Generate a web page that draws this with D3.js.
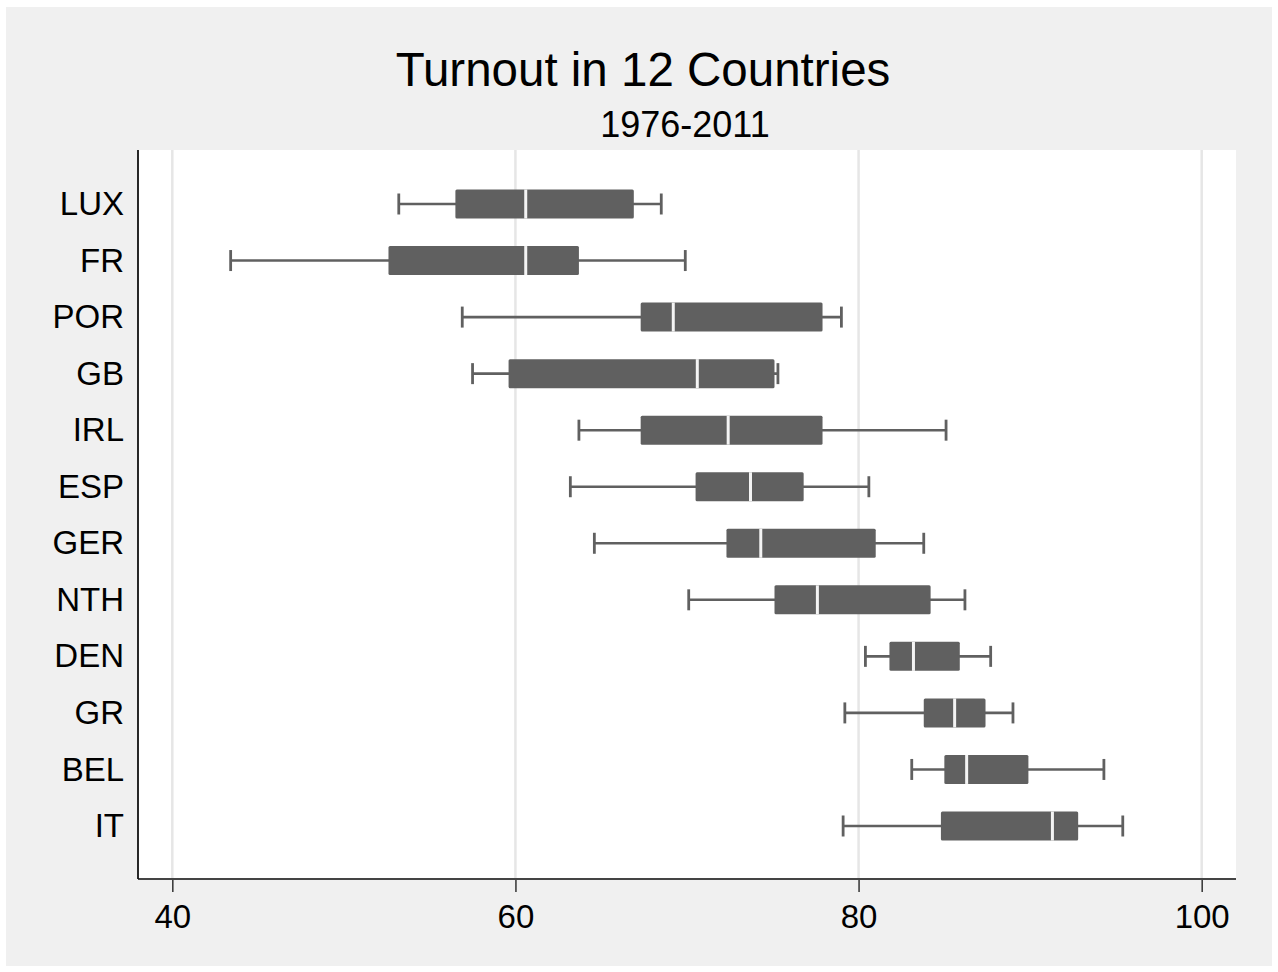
<!DOCTYPE html>
<html>
<head>
<meta charset="utf-8">
<script src="https://cdn.jsdelivr.net/npm/d3@7"></script>
<style>
html,body{margin:0;padding:0;background:#fff;}
svg{display:block;font-family:"Liberation Sans",Arial,Helvetica,sans-serif;}
</style>
</head>
<body>
<svg id="chart" width="1278" height="972"></svg>
<script>
const countries = ["LUX","FR","POR","GB","IRL","ESP","GER","NTH","DEN","GR","BEL","IT"];
const whiskerLow  = [53.2, 43.4, 56.9, 57.5, 63.7, 63.2, 64.6, 70.1, 80.4, 79.2, 83.1, 79.1];
const q1          = [56.5, 52.6, 67.3, 59.6, 67.3, 70.5, 72.3, 75.1, 81.8, 83.8, 85.0, 84.8];
const median      = [60.6, 60.6, 69.2, 70.6, 72.4, 73.7, 74.3, 77.6, 83.2, 85.6, 86.3, 91.3];
const q3          = [66.9, 63.7, 77.9, 75.1, 77.9, 76.8, 81.0, 84.2, 85.9, 87.4, 89.9, 92.8];
const whiskerHigh = [68.5, 69.9, 79.0, 75.3, 85.1, 80.6, 83.8, 86.2, 87.7, 89.0, 94.3, 95.4];
const xTicks = [40, 60, 80, 100];

const data = countries.map((c, i) => ({
  c, lo: whiskerLow[i], q1: q1[i], med: median[i], q3: q3[i], hi: whiskerHigh[i]
}));

const svg = d3.select("#chart");
const plot = {left: 138, right: 1236, top: 150, bottom: 879};

svg.append("rect").attr("x", 6).attr("y", 7).attr("width", 1266).attr("height", 959).attr("fill", "#f0f0f0");
svg.append("rect").attr("x", plot.left).attr("y", plot.top)
  .attr("width", plot.right - plot.left).attr("height", plot.bottom - plot.top).attr("fill", "#fff");

const x = d3.scaleLinear().domain([38, 102]).range([plot.left, plot.right]);
const y = d3.scalePoint().domain(countries).range([204, 826]);

svg.append("g").selectAll("line").data(xTicks).join("line")
  .attr("x1", d => x(d)).attr("x2", d => x(d))
  .attr("y1", plot.top).attr("y2", plot.bottom)
  .attr("stroke", "#e6e6e6").attr("stroke-width", 2.5);

const xAxis = svg.append("g").attr("transform", `translate(0,${plot.bottom})`)
  .call(d3.axisBottom(x).tickValues(xTicks).tickSize(13).tickPadding(13).tickFormat(d3.format("d")));
xAxis.select(".domain").remove();
xAxis.selectAll(".tick line").attr("stroke", "#333").attr("stroke-width", 1.5);
xAxis.selectAll(".tick text").attr("font-size", 33).attr("fill", "#000")
  .attr("font-family", "'Liberation Sans', Arial, sans-serif");
svg.append("line").attr("x1", plot.left).attr("x2", plot.right)
  .attr("y1", plot.bottom).attr("y2", plot.bottom).attr("stroke", "#444").attr("stroke-width", 1.8);

const yAxis = svg.append("g").attr("transform", `translate(${plot.left},0)`)
  .call(d3.axisLeft(y).tickSize(0).tickPadding(14));
yAxis.select(".domain").remove();
yAxis.selectAll(".tick text").attr("font-size", 33).attr("fill", "#000")
  .attr("font-family", "'Liberation Sans', Arial, sans-serif");
svg.append("line").attr("x1", plot.left).attr("x2", plot.left)
  .attr("y1", plot.top).attr("y2", plot.bottom).attr("stroke", "#111").attr("stroke-width", 1.8);

const boxH = 29, capH = 21;
const g = svg.append("g").selectAll("g").data(data).join("g")
  .attr("transform", d => `translate(0,${y(d.c)})`);
const col = "#606060";
g.append("line").attr("x1", d => x(d.lo)).attr("x2", d => x(d.hi))
  .attr("y1", 0).attr("y2", 0).attr("stroke", col).attr("stroke-width", 2.6);
g.append("line").attr("x1", d => x(d.lo)).attr("x2", d => x(d.lo))
  .attr("y1", -capH/2).attr("y2", capH/2).attr("stroke", col).attr("stroke-width", 2.8);
g.append("line").attr("x1", d => x(d.hi)).attr("x2", d => x(d.hi))
  .attr("y1", -capH/2).attr("y2", capH/2).attr("stroke", col).attr("stroke-width", 2.8);
g.append("rect").attr("x", d => x(d.q1)).attr("width", d => x(d.q3) - x(d.q1))
  .attr("y", -boxH/2).attr("height", boxH).attr("rx", 1.5).attr("fill", col);
g.append("line").attr("x1", d => x(d.med)).attr("x2", d => x(d.med))
  .attr("y1", -boxH/2).attr("y2", boxH/2).attr("stroke", "#f4f4f4").attr("stroke-width", 3);

svg.append("text").attr("x", 643).attr("y", 86).attr("text-anchor", "middle")
  .attr("font-size", 47.5).attr("fill", "#000").text("Turnout in 12 Countries");
svg.append("text").attr("x", 685).attr("y", 137).attr("text-anchor", "middle")
  .attr("font-size", 36).attr("fill", "#000").text("1976-2011");
</script>
</body>
</html>
